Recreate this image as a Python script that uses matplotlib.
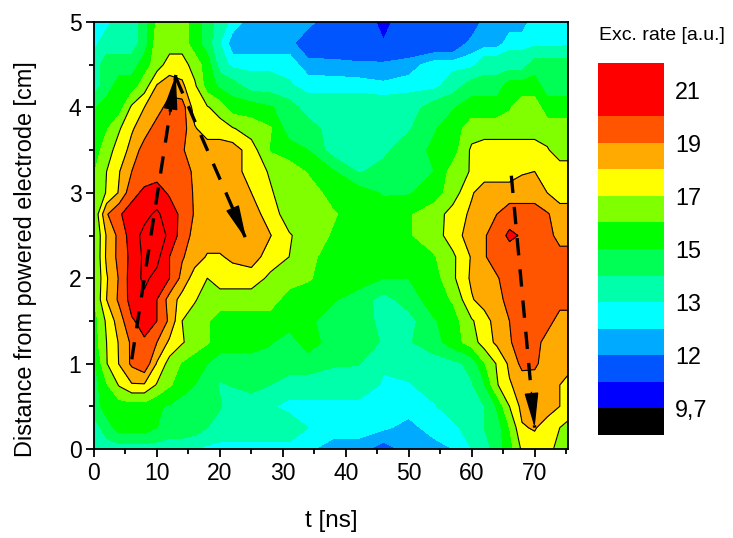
import numpy as np
import matplotlib
matplotlib.use("Agg")
import matplotlib.pyplot as plt

plt.rcParams['font.family'] = ['Liberation Sans', 'DejaVu Sans']

t_ns = [0,2,4,6,8,10,12,14,16,18,20,22,25,28,31,34,38,42,46,50,54,57,60,62,64,66,68,70,72,74,76]
y_cm = [5,4.75,4.5,4.25,4,3.75,3.5,3.25,3,2.75,2.5,2.25,2,1.75,1.5,1.25,1,0.75,0.5,0.25,0]

rate = [
[12.75,12.75,13.5,13.5,14.5,16.2,16.9,16.5,15.5,14.5,13.5,12.75,12.25,12.25,12.25,12.25,11.4,11.4,10.6,11.4,11.4,11.4,11.4,12.25,12.25,12.25,12.25,12.75,12.75,12.75,12.75],
[12.75,13.5,13.5,13.5,14.5,16.5,16.5,16.5,15.5,14.5,13,12.25,12.25,12.25,12.25,11.4,11.4,11.4,10.9,11.4,11.4,11.4,12.25,12.25,12.25,12.75,12.75,12.75,12.75,12.75,12.9],
[13.5,14.5,14.5,14.5,15.5,16.5,17.5,17.5,16.5,15.5,13.5,12.75,12.75,12.75,12.75,12.25,12.2,12.1,12.15,12.25,12.75,12.75,12.75,13.5,13.5,13.5,13.5,14.5,14.5,14.5,14.5],
[13.5,14.5,15.5,15.5,16.5,18.1,18.5,18.2,17.2,15.5,14.8,14.5,13.5,13.5,13.1,12.75,12.75,12.75,12.6,12.75,12.75,13.5,14.5,14.5,14.5,15.5,15.5,15.5,14.5,14.5,14.5],
[14.9,15.5,15.5,17.2,18,18.5,19.5,19.5,17.5,17.1,16.5,15.5,15.5,15.1,14.5,13.5,13.5,13.5,13.5,13.5,14.5,14.9,15.5,15.5,15.5,15.9,16.5,16.5,15.5,15.5,15.5],
[14.9,15.9,16.9,17.9,18.5,19.5,19.5,19.5,18.1,17.5,17.5,17.1,16.5,16.1,14.5,14.5,13.5,13.5,13.5,13.9,14.9,15.5,16.5,16.5,16.5,16.5,16.5,16.5,16.5,16.5,16.5],
[15.5,16.5,17.5,18.3,19.5,19.5,19.5,19.1,18.5,18.5,18.5,18.5,17.5,15.9,15.5,15,13.5,13.5,13.8,14.5,15.2,15.5,17.2,17.5,17.5,17.5,17.5,17.5,17.1,16.5,16.5],
[15.9,17,17.95,19,19.5,19.7,19.7,19.5,18.8,18.5,18.5,18.5,17.5,16.9,16.5,15.9,15.1,13.9,14.3,14.5,15,16.4,17.1,17.5,17.5,17.5,17.9,18,17.5,17.5,17.5],
[15.9,17.1,18.1,19.7,20.2,20.3,19.9,19.5,18.9,18.5,18.5,18.5,18,17.1,16.5,16.5,15.6,15.5,14.9,14.9,15.5,16.5,17.9,18.5,18.5,18.5,18.5,18.5,18,17.5,17.5],
[16.1,18.9,19.9,20.4,20.7,21.2,20.4,19.8,18.9,18.5,18.5,18.5,18.5,17.5,16.5,16.5,16.1,15.5,15.5,15.9,16.5,17.4,18.2,18.9,19,19.5,19.5,19.5,19.1,18.5,18.5],
[15.9,18.1,19.3,20.5,21.3,21.5,20.8,19.5,18.7,18.5,18.5,18.5,18.5,18.05,17.1,16.5,15.9,15.5,15.5,15.9,16.5,17.5,18.5,18.9,19.5,20.2,19.9,19.5,19.5,18.5,18.5],
[15.9,18.2,19.3,20.3,21.2,21.3,20,19.1,18.5,17.9,17.9,18.2,18.5,17.5,17,16.3,15.5,15.5,15.2,15.6,15.9,16.8,18.1,18.9,19.5,19.5,20,19.5,19.5,19.5,19.5],
[15.9,17.9,19.1,20.5,21.2,20.7,20,18.7,17.5,17,17.5,17.5,17.5,16.8,16.5,16.1,15.5,15.5,15,15,15.5,16.8,18.2,18.5,18.9,19.5,19.5,19.5,19.5,19.5,19.5],
[16,18,19.2,20.4,20.8,20,18.6,17.6,17.1,16.5,16.5,16.5,16.5,16.5,15.5,15.5,15.1,14.5,13.6,14.5,15.5,16.1,17.9,18.5,18.5,19.5,19.5,19.5,19.5,19.5,19.5],
[15.5,17.2,18.5,19.9,20.3,20,18.8,17,16.5,16.1,15.5,15.5,15.5,15.5,15.5,15.2,14.5,14.5,13.7,13.6,14.9,15.5,16.9,17.5,18.5,19,19.5,19.5,19.5,18.5,18.5],
[15.5,17,18.1,19.2,19.9,19,17.8,17.1,16.5,16.1,15.5,15.5,15.5,15.1,14.5,15.5,14.5,14.5,13.9,13.9,14.6,15.5,16.5,17.5,18.2,18.9,19.5,19.5,18.5,18.5,18.5],
[14.8,16.95,18.05,19.2,19.8,17.9,16.6,15.9,15.5,15,14.5,14.5,14.5,14.5,14.5,14.5,14.1,14.05,13.1,13.5,13.5,13.7,14.3,15.9,17.1,18.2,19.3,19.2,18.5,18.5,18.2],
[14.5,15.9,17.1,17.9,17.9,16.9,16.1,15.5,15,14.5,13.9,14.05,14.3,14,13.5,13.5,13.5,13.5,12.9,12.9,13.5,13.5,13.9,14.9,16.9,17.9,18.4,18.5,18.5,18,17.5],
[14.5,15.5,15.5,15.5,15.5,15.1,14.9,14.5,14.5,14.5,14.1,13.5,13.5,13.1,12.75,12.75,12.75,12.75,12.75,12.75,12.9,13.5,13.5,14,15.1,17,18.3,18.5,18.5,18,17.5],
[13.5,14.5,15.5,15.5,15.5,15,14.5,14.5,14.5,14,13.5,13.5,13.5,13.5,13.5,13,12.75,12.75,12.6,12.3,12.75,12.75,13.5,14,14.5,16,17.9,18.1,17.5,17,16.5],
[13.5,13.5,13.5,13.5,13.5,13.5,13.5,13.5,13.1,12.75,12.75,12.75,12.75,12.75,12.75,12.6,12.25,12.25,11.7,12.25,12.25,12.5,13,13.5,14.5,15.5,17.2,17.5,17.5,16.5,16.5],
]

levels = [8.5, 9.7, 10.85, 12, 12.5, 13, 14, 15, 16, 17, 18, 19, 20, 21, 22]
band_colors = ['#000000', '#0000ff', '#0055ff', '#00aaff', '#00ffff', '#00ffaa', '#00ff55',
               '#00ff00', '#80ff00', '#ffff00', '#ffaa00', '#ff5500', '#ff0000', '#ff0000']
line_levels = [17, 18, 19, 20, 21]
bar_ticks = [9.7, 12, 13, 15, 17, 19, 21]
bar_labels = ['9,7', '12', '13', '15', '17', '19', '21']

arrow1_t = [6, 13]
arrow1_y = [1.05, 4.38]
arrow2_t = [13, 24.2]
arrow2_y = [4.35, 2.45]
arrow3_t = [66.3, 70]
arrow3_y = [3.2, 0.25]

W, H = 733, 538
fig = plt.figure(figsize=(W/100, H/100), dpi=100)
ax = fig.add_axes([94/W, 1-449/H, (568-94)/W, (449-22)/H])
cf = ax.contourf(t_ns, y_cm, rate, levels=levels, colors=band_colors)
ax.contour(t_ns, y_cm, rate, levels=line_levels, colors='black', linewidths=0.8)

for at, ay in ((arrow1_t, arrow1_y), (arrow2_t, arrow2_y), (arrow3_t, arrow3_y)):
    ax.plot(at, ay, color='black', lw=2.4, dashes=(5.2, 4.2), solid_capstyle='butt')
    ax.annotate('', xy=(at[1], ay[1]),
                xytext=(at[1] - 0.14*(at[1]-at[0]), ay[1] - 0.14*(ay[1]-ay[0])),
                arrowprops=dict(arrowstyle='-|>,head_length=1.1,head_width=0.22', color='black',
                                lw=1, mutation_scale=20, shrinkA=0, shrinkB=0))

ax.set_xlim(0, 75.3)
ax.set_ylim(0, 5)
ax.set_xticks(range(0, 71, 10))
ax.set_xticks(range(5, 76, 10), minor=True)
ax.set_yticks(range(0, 6))
ax.set_yticks(np.arange(0.5, 5, 1), minor=True)
ax.tick_params(which='major', length=6, width=1.3, labelsize=16.5, pad=3)
ax.tick_params(which='minor', length=3.5, width=1.3)
for s in ax.spines.values():
    s.set_linewidth(1.3)
ax.set_xlabel('t [ns]', fontsize=17.5, labelpad=18)
ax.set_ylabel('Distance from powered electrode [cm]', fontsize=16.9, labelpad=23)
ax.yaxis.label.set_y(0.445)

cax = fig.add_axes([598/W, 1-435/H, (664-598)/W, (435-63)/H])
cb = fig.colorbar(cf, cax=cax, spacing='uniform', ticks=bar_ticks)
cb.ax.set_yticklabels(bar_labels)
cb.ax.tick_params(length=0, labelsize=16.8, pad=8)
cb.outline.set_visible(False)
fig.text(599/W, 1-36/H, 'Exc. rate [a.u.]', fontsize=14, ha='left', va='center')

fig.savefig('out.png', dpi=100)
